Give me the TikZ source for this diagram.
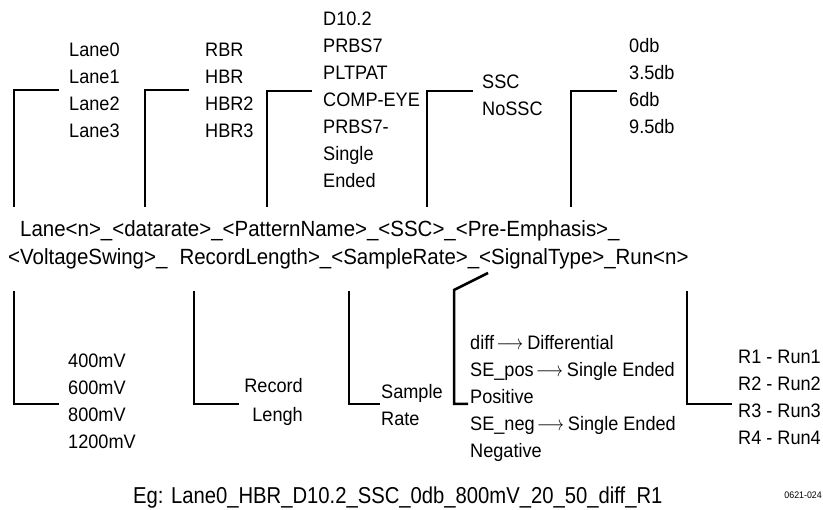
\documentclass[tikz,border=0pt]{standalone}
\usepackage{graphicx}
\usepackage{fontspec}
\setmainfont{Liberation Sans}[FakeStretch=0.93]
\newfontfamily\egfont{Liberation Sans}[FakeStretch=0.88]
\newcommand{\myarr}{\hspace{2.5pt}\scalebox{0.8}[1]{$\longrightarrow$}\hspace{4pt}}
\begin{document}
\begin{tikzpicture}[x=1pt,y=-1pt,
  lbl/.style={anchor=north west,inner sep=0pt,align=left,font=\fontsize{19.5}{27}\selectfont},
  mainline/.style={anchor=base west,inner sep=0pt,font=\fontsize{22}{28}\selectfont},
  brk/.style={line width=2.5pt,line cap=butt,line join=miter}]
\useasboundingbox (0,0) rectangle (823,510);
% top labels
\node[lbl] (lanes) at (69,43) {Lane0\\Lane1\\Lane2\\Lane3};
\node[lbl] (rates) at (205,43) {RBR\\HBR\\HBR2\\HBR3};
\node[lbl] (pats) at (323,12) {D10.2\\PRBS7\\PLTPAT\\COMP-EYE\\PRBS7-\\Single\\Ended};
\node[lbl] (ssc) at (482,75) {SSC\\NoSSC};
\node[lbl] (pre) at (629,38) {0db\\3.5db\\6db\\9.5db};
% main lines
\node[mainline] (l1) at (20,237) {Lane<n>\_<datarate>\_<PatternName>\_<SSC>\_<Pre-Emphasis>\_};
\node[mainline] (l2) at (8,265) {<VoltageSwing>\_\hspace{0.55em}RecordLength>\_<SampleRate>\_<SignalType>\_Run<n>};
% bottom labels
\node[lbl] (volt) at (68,354) {400mV\\600mV\\800mV\\1200mV};
\node[lbl,anchor=north east,align=right,font=\fontsize{19.5}{29}\selectfont] (rec) at (303,378) {Record\\Lengh};
\node[lbl] (samp) at (381,384) {Sample\\Rate};
\node[lbl] (sig) at (470,335) {diff\myarr Differential\\SE\_pos\myarr Single Ended\\Positive\\SE\_neg\myarr Single Ended\\Negative};
\node[lbl] (run) at (738,350) {R1 - Run1\\R2 - Run2\\R3 - Run3\\R4 - Run4};
\node[anchor=base west,inner sep=0pt,font=\egfont\fontsize{23}{28}\selectfont] (eg) at (133,504) {Eg: Lane0\_HBR\_D10.2\_SSC\_0db\_800mV\_20\_50\_diff\_R1};
\node[anchor=base east,inner sep=0pt,font=\fontsize{9.5}{11}\selectfont] (code) at (822,499) {0621-024};
% top brackets
\coordinate (t1) at (14,207); \coordinate (e1) at (59,90);
\coordinate (t2) at (145,207); \coordinate (e2) at (189,90);
\coordinate (t3) at (267,207); \coordinate (e3) at (312,91);
\coordinate (t4) at (427,207); \coordinate (e4) at (473,91);
\coordinate (t5) at (571,207); \coordinate (e5) at (617,91);
\draw[brk] (t1) |- (e1);
\draw[brk] (t2) |- (e2);
\draw[brk] (t3) |- (e3);
\draw[brk] (t4) |- (e4);
\draw[brk] (t5) |- (e5);
% bottom brackets
\coordinate (b1) at (14,291); \coordinate (f1) at (59,404);
\coordinate (b2) at (194,291); \coordinate (f2) at (239,404);
\coordinate (b3) at (349,291); \coordinate (f3) at (380,404);
\coordinate (b4) at (488,273); \coordinate (k4) at (454,290); \coordinate (f4) at (468,404);
\coordinate (b5) at (687,291); \coordinate (f5) at (732,404);
\draw[brk] (b1) |- (f1);
\draw[brk] (b2) |- (f2);
\draw[brk] (b3) |- (f3);
\draw[brk] (b4) -- (k4) |- (f4);
\draw[brk] (b5) |- (f5);
\end{tikzpicture}
\end{document}
